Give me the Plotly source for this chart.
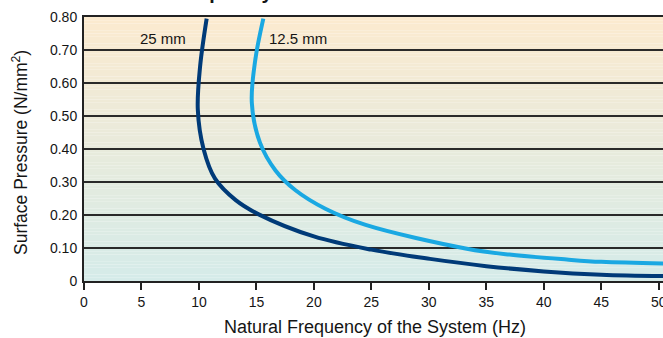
import plotly.graph_objects as go

# ---- data ----
x_ticks = [0, 5, 10, 15, 20, 25, 30, 35, 40, 45, 50]
y_ticks = [0, 0.1, 0.2, 0.3, 0.4, 0.5, 0.6, 0.7, 0.8]
y_tick_labels = ["0", "0.10", "0.20", "0.30", "0.40", "0.50", "0.60", "0.70", "0.80"]

freq_25mm = [10.67, 10.1, 9.9, 10.4, 11.4, 13.2, 15.2, 20.0, 25.0, 30.1,
             35.0, 40.0, 45.0, 50.4]
press_25mm = [0.795, 0.65, 0.52, 0.40, 0.31, 0.245, 0.202, 0.135, 0.095, 0.067,
              0.045, 0.029, 0.019, 0.015]

freq_12mm = [15.6, 14.9, 14.6, 15.3, 16.66, 18.4, 21.0, 24.5, 33.3,
             37.0, 42.0, 45.0, 50.4]
press_12mm = [0.795, 0.67, 0.54, 0.42, 0.335, 0.275, 0.219, 0.170, 0.098,
              0.080, 0.065, 0.058, 0.053]

series_labels = ["25 mm", "12.5 mm"]
x_title = "Natural Frequency of the System (Hz)"
y_title = "Surface Pressure (N/mm<sup>2</sup>)"
chart_title = "Natural Frequency"

FONT = "Liberation Sans, Arial, sans-serif"
DARK = "#003a78"
LIGHT = "#1aa8e2"
INK = "#151515"

fig = go.Figure()

# gradient background bands (peach at top -> pale teal at bottom)
top_rgb = (251, 234, 207)
bot_rgb = (213, 235, 233)
n = 80
for i in range(n):
    t = i / (n - 1)
    r = round(bot_rgb[0] + (top_rgb[0] - bot_rgb[0]) * t)
    g = round(bot_rgb[1] + (top_rgb[1] - bot_rgb[1]) * t)
    b = round(bot_rgb[2] + (top_rgb[2] - bot_rgb[2]) * t)
    fig.add_shape(type="rect", xref="paper", yref="y", x0=0, x1=1,
                  y0=0.8 * i / n, y1=0.8 * (i + 1) / n,
                  fillcolor=f"rgb({r},{g},{b})", line=dict(width=0), layer="below")

fig.add_trace(go.Scatter(x=freq_25mm, y=press_25mm, mode="lines",
                         line=dict(color=DARK, width=4, shape="spline", smoothing=1.0),
                         name=series_labels[0], showlegend=False))
fig.add_trace(go.Scatter(x=freq_12mm, y=press_12mm, mode="lines",
                         line=dict(color=LIGHT, width=4, shape="spline", smoothing=1.0),
                         name=series_labels[1], showlegend=False))

fig.add_annotation(x=6.9, y=0.735, xref="x", yref="y", text=series_labels[0],
                   showarrow=False, font=dict(family=FONT, size=15, color=INK))
fig.add_annotation(x=15.9, y=0.735, xref="x", yref="y", text=series_labels[1],
                   showarrow=False, xanchor="left", font=dict(family=FONT, size=15, color=INK))

# axis titles
fig.add_annotation(x=0.5, y=0, xref="paper", yref="paper", xanchor="center", yanchor="middle",
                   text=x_title, showarrow=False, xshift=1, yshift=-46,
                   font=dict(family=FONT, size=18, color=INK))
fig.add_annotation(x=0, y=0.5, xref="paper", yref="paper", xanchor="center", yanchor="middle",
                   text=y_title, showarrow=False, textangle=-90, xshift=-64, yshift=-4,
                   font=dict(family=FONT, size=17.5, color=INK))

# cropped title (only descenders visible)
fig.add_annotation(x=0, y=1, xref="paper", yref="paper", xanchor="left", yanchor="bottom",
                   text="<b>" + chart_title + "</b>", showarrow=False, yshift=12, xshift=11,
                   font=dict(family=FONT, size=20, color=INK))

fig.update_layout(
    width=663, height=338,
    margin=dict(l=84, r=0, t=17, b=57),
    paper_bgcolor="white", plot_bgcolor="rgba(0,0,0,0)",
    font=dict(family=FONT, size=14, color=INK),
    xaxis=dict(range=[0, 50.37], tickvals=x_ticks, ticks="outside", ticklen=7,
               tickcolor="#222", tickwidth=1.5, showgrid=False, zeroline=False,
               showline=True, linecolor="#222", linewidth=2, mirror=True,
               automargin=False, ticklabeloverflow="allow",
               tickfont=dict(family=FONT, size=14)),
    yaxis=dict(range=[0, 0.8], tickvals=y_ticks, ticktext=y_tick_labels,
               ticks="", showgrid=True, gridcolor="#2a2a2a", gridwidth=1.5,
               zeroline=False, showline=True, linecolor="#222", linewidth=2,
               automargin=False, ticklabelstandoff=2,
               tickfont=dict(family=FONT, size=14)),
)

fig.write_html("out.html", config={"displayModeBar": False},
               post_script="document.body.style.margin='0';document.body.style.overflow='hidden';")
